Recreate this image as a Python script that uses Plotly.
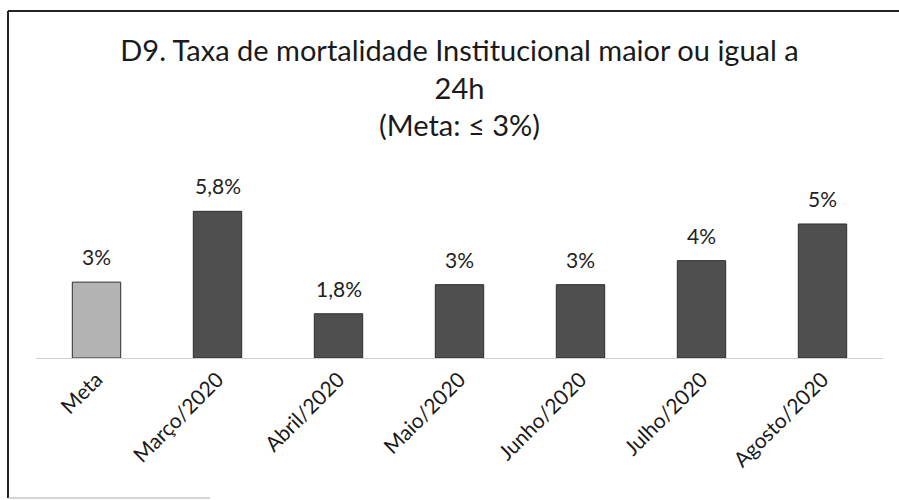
import plotly.graph_objects as go

categories = ["Meta", "Março/2020", "Abril/2020", "Maio/2020", "Junho/2020", "Julho/2020", "Agosto/2020"]
values = [3.0, 5.8, 1.75, 2.9, 2.9, 3.85, 5.3]
labels = ["3%", "5,8%", "1,8%", "3%", "3%", "4%", "5%"]
bar_colors = ["#b3b3b3", "#4f4f4f", "#4f4f4f", "#4f4f4f", "#4f4f4f", "#4f4f4f", "#4f4f4f"]

title_text = "D9. Taxa de mortalidade Institucional maior ou igual a<br>24h<br>(Meta: ≤ 3%)"

FONT = "Lato, 'Open Sans', sans-serif"

L, R, T, B = 36, 16, 181, 142
PW, PH = 899 - L - R, 500 - T - B


def px_x(px):
    return (px - L) / PW


def px_y(py):
    return (500 - B - py) / PH


fig = go.Figure()
fig.add_trace(go.Bar(
    x=categories,
    y=values,
    marker=dict(color=bar_colors, line=dict(color="#2e2e2e", width=1)),
    width=0.4,
    hoverinfo="skip",
))

for c, v, t in zip(categories, values, labels):
    fig.add_annotation(x=c, y=v, text=t, showarrow=False, yanchor="bottom",
                       yshift=11, font=dict(family=FONT, size=21, color="#222222"))

fig.update_layout(
    width=899, height=500,
    paper_bgcolor="white", plot_bgcolor="white",
    margin=dict(l=L, r=R, t=T, b=B),
    showlegend=False,
    title=dict(text=title_text, x=0.5, xref="paper", xanchor="center",
               y=1 - 61 / 500, yref="container", yanchor="top",
               font=dict(family=FONT, size=29, color="#1a1a1a")),
    xaxis=dict(showline=True, linecolor="#d0d0d0", linewidth=1, ticks="",
               tickangle=-45, tickfont=dict(family=FONT, size=21, color="#1a1a1a"),
               showgrid=False),
    yaxis=dict(range=[0, 7], visible=False, showgrid=False, zeroline=False),
    shapes=[
        dict(type="line", xref="paper", yref="paper",
             x0=px_x(8), x1=px_x(899), y0=px_y(11), y1=px_y(11),
             line=dict(color="#222222", width=2)),
        dict(type="line", xref="paper", yref="paper",
             x0=px_x(8), x1=px_x(8), y0=px_y(11), y1=px_y(498),
             line=dict(color="#222222", width=2)),
        dict(type="line", xref="paper", yref="paper",
             x0=px_x(8), x1=px_x(210), y0=px_y(498), y1=px_y(498),
             line=dict(color="#aaaaaa", width=1)),
    ],
)

fig.write_html("out.html", config={"displayModeBar": False},
               post_script="document.body.style.margin='0';")
